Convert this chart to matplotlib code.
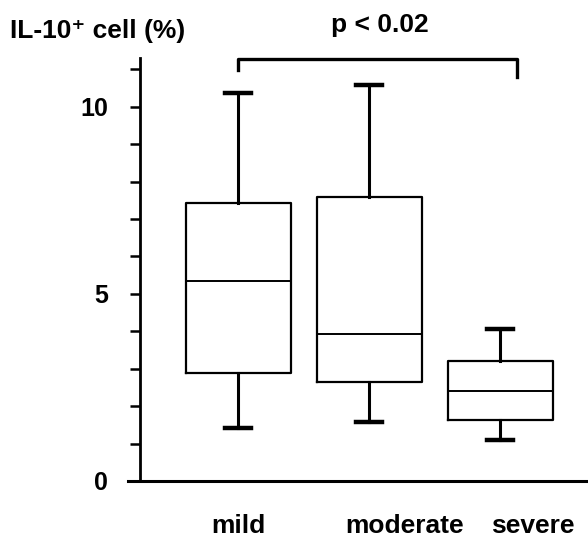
import numpy as np
import matplotlib.pyplot as plt

plt.rcParams['font.family'] = ['Liberation Sans', 'DejaVu Sans']

# Dati
groups = ['mild', 'moderate', 'severe']
whis_lo = [1.42, 1.58, 1.10]
q1 = [2.89, 2.65, 1.63]
median = [5.35, 3.93, 2.41]
q3 = [7.43, 7.59, 3.21]
whis_hi = [10.37, 10.57, 4.06]

p_text = 'p < 0.02'
ylabel = 'IL-10\u207a cell (%)'

stats = []
for i, g in enumerate(groups):
    stats.append({'label': g, 'whislo': whis_lo[i], 'q1': q1[i], 'med': median[i],
                  'q3': q3[i], 'whishi': whis_hi[i], 'fliers': []})

fig = plt.figure(figsize=(5.88, 5.4), dpi=100)
ax = fig.add_axes([140 / 588, 59 / 540, 448 / 588, 423 / 540])

pos = np.arange(1, len(groups) + 1)
ax.bxp(stats, positions=pos, widths=0.8, capwidths=0.2, showfliers=False,
       boxprops=dict(color='black', linewidth=1.6),
       medianprops=dict(color='black', linewidth=1.4),
       whiskerprops=dict(color='black', linewidth=2.2),
       capprops=dict(color='black', linewidth=3.2))

ax.set_xlim(0.25, 3.67)
ax.set_ylim(0, 11.3)

# assi
for s in ['top', 'right']:
    ax.spines[s].set_visible(False)
ax.spines['left'].set_linewidth(2)
ax.spines['bottom'].set_linewidth(2.2)
ax.spines['bottom'].set_bounds(0.16, 3.67)

ax.set_yticks([0, 5, 10])
ax.set_yticks(np.arange(0, 12), minor=True)
ax.tick_params(axis='y', which='both', direction='out', length=7, width=1.8,
               labelsize=18, pad=16)
for t in ax.get_yticklabels():
    t.set_fontweight('bold')

# etichette dei gruppi spostate come nell'originale
label_x = [1.0, 2.27, 3.25]
ax.set_xticks(label_x)
ax.set_xticklabels(groups, fontsize=19, fontweight='bold')
ax.tick_params(axis='x', length=0, pad=24)

# titolo asse y in alto
fig.text(10 / 588, 1 - 31 / 540, ylabel, fontsize=19, fontweight='bold',
         ha='left', va='center')

# parentesi di significatività
x1, x2 = 1.0, 3.13
ax.plot([x1, x1, x2, x2], [10.99, 11.28, 11.28, 10.78], color='black',
        linewidth=2.4, clip_on=False)
ax.text(2.08, 12.19, p_text, fontsize=19, fontweight='bold', ha='center',
        va='center', clip_on=False)

fig.savefig('out.png', dpi=100)
